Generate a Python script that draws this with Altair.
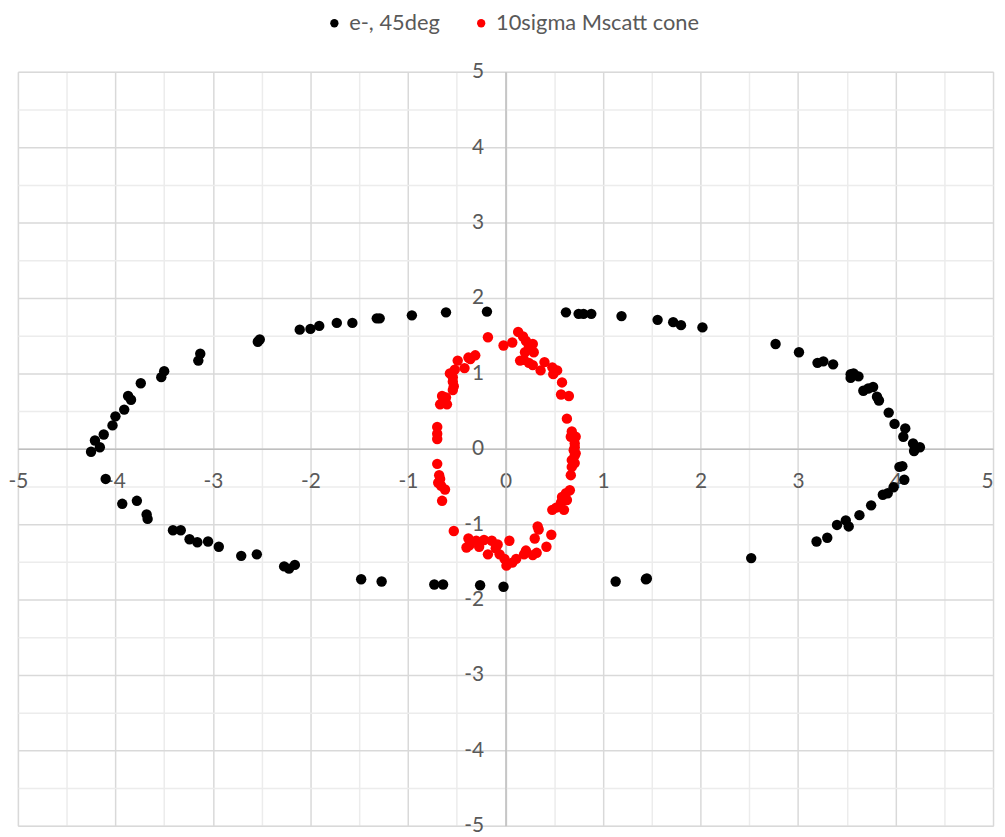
import altair as alt
import pandas as pd

# --- data ---
e_x = [-4.25, -4.21, -4.16, -4.12, -4.03, -4.00, -3.91, -3.87, -3.84, -3.74, -3.53, -3.50,
       -3.15, -3.13, -2.54, -2.52, -2.11, -2.00, -1.91, -1.73, -1.57, -1.32, -1.29, -0.96,
       -0.61, -0.19, 0.62, 0.75, 0.80, 0.88, 1.19, 1.56, 1.72, 1.80, 2.02, 2.77, 3.01, 3.20,
       3.26, 3.36, 3.54, 3.54, 3.62, 3.57, 3.67, 3.72, 3.77, 3.81, 3.83, 3.93, 3.99, 4.10,
       4.08, 4.18, 4.25, 4.19,
       -4.10, -3.93, -3.78, -3.68, -3.67, -3.41, -3.33, -3.24, -3.16, -3.05, -2.94, -2.71,
       -2.55, -2.27, -2.22, -2.16, -1.48, -1.27, -0.73, -0.64, -0.26, -0.02, 1.13, 1.44,
       1.45, 2.52, 3.19, 3.30, 3.40, 3.49, 3.52, 3.63, 3.75, 3.87, 3.92, 3.98, 4.04, 4.07, 4.09]
e_y = [-0.04, 0.11, 0.02, 0.19, 0.31, 0.43, 0.52, 0.70, 0.65, 0.87, 0.95, 1.03,
       1.17, 1.26, 1.42, 1.45, 1.58, 1.59, 1.63, 1.67, 1.67, 1.73, 1.73, 1.77,
       1.81, 1.82, 1.81, 1.79, 1.79, 1.79, 1.76, 1.71, 1.68, 1.64, 1.61, 1.39, 1.28, 1.14,
       1.16, 1.12, 0.99, 0.94, 0.96, 1.00, 0.77, 0.80, 0.82, 0.69, 0.64, 0.48, 0.33, 0.27,
       0.16, 0.07, 0.02, -0.03,
       -0.40, -0.73, -0.69, -0.87, -0.93, -1.08, -1.08, -1.20, -1.24, -1.23, -1.30, -1.42,
       -1.40, -1.56, -1.59, -1.54, -1.73, -1.76, -1.80, -1.80, -1.81, -1.83, -1.76, -1.73,
       -1.72, -1.45, -1.23, -1.18, -1.01, -0.95, -1.03, -0.88, -0.75, -0.61, -0.59, -0.51,
       -0.24, -0.23, -0.41]

cone_x = [-0.18, -0.02, 0.07, 0.13, 0.18, 0.21, 0.28, 0.24, 0.29, 0.20, 0.15, 0.19, 0.24,
          0.28, 0.36, 0.40, 0.48, 0.53, 0.49, 0.58, 0.57, 0.65, 0.63, 0.68, 0.72, 0.67,
          0.71, 0.70, 0.71, 0.68, 0.71, 0.67, 0.68, 0.72, 0.71,
          -0.31, -0.38, -0.36, -0.49, -0.42, -0.52, -0.57, -0.54, -0.54, -0.53, -0.54, -0.65,
          -0.61, -0.67, -0.60, -0.70, -0.70, -0.70, -0.70, -0.68, -0.67, -0.69, -0.66, -0.62,
          -0.65,
          -0.53, -0.38, -0.40, -0.37, -0.30, -0.22, -0.14, -0.08, 0.04, -0.27, -0.18, -0.10,
          -0.06, -0.01, 0.01, 0.07, 0.11, 0.19, 0.21, 0.28, 0.32, 0.33, 0.34, 0.30, 0.42, 0.47,
          0.48, 0.52, 0.57, 0.58, 0.62, 0.66, 0.60, 0.63]
cone_y = [1.48, 1.37, 1.41, 1.55, 1.49, 1.43, 1.39, 1.35, 1.28, 1.28, 1.17, 1.18, 1.14,
          1.11, 1.04, 1.15, 1.08, 1.04, 0.99, 0.88, 0.72, 0.70, 0.40, 0.23, 0.16, 0.16,
          0.07, -0.02, -0.09, -0.15, -0.19, -0.35, -0.24, -0.06, 0.02,
          1.24, 1.21, 1.19, 1.17, 1.07, 1.05, 1.00, 0.95, 0.89, 0.83, 0.78, 0.70,
          0.68, 0.59, 0.59, 0.29, 0.20, 0.13, -0.20, -0.35, -0.40, -0.45, -0.49, -0.54,
          -0.69,
          -1.09, -1.19, -1.31, -1.28, -1.22, -1.21, -1.22, -1.27, -1.22, -1.30, -1.40, -1.32,
          -1.40, -1.46, -1.55, -1.51, -1.46, -1.40, -1.35, -1.41, -1.38, -1.03, -1.07, -1.19,
          -1.30, -1.14,
          -0.81, -0.78, -0.71, -0.64, -0.59, -0.55, -0.81, -0.68]

series_names = ["e-, 45deg", "10sigma Mscatt cone"]
series_colors = ["#000000", "#ff0000"]
grid_vals = [-5, -4.5, -4, -3.5, -3, -2.5, -2, -1.5, -1, -0.5, 0,
             0.5, 1, 1.5, 2, 2.5, 3, 3.5, 4, 4.5, 5]

df = pd.concat([
    pd.DataFrame({"x": e_x, "y": e_y, "series": series_names[0]}),
    pd.DataFrame({"x": cone_x, "y": cone_y, "series": series_names[1]}),
], ignore_index=True)

W, H = 983, 760
FONT = "Lato"
LABEL_COLOR = "#595959"

grid_color = {"condition": {"test": "datum.value % 1 === 0", "value": "#d9d9d9"},
              "value": "#ececec"}
label_expr = "datum.value % 1 === 0 ? '' + datum.value : ''"

x_axis = alt.Axis(values=grid_vals, grid=True, gridColor=grid_color, gridWidth=1.5,
                  ticks=False, domain=True, domainColor="#bfbfbf", domainWidth=1.5,
                  offset=-H / 2, labelExpr=label_expr, labelFont=FONT, labelFontSize=21,
                  labelColor=LABEL_COLOR, labelPadding=22, labelOverlap=False,
                  labelAlign={"condition": {"test": "datum.value >= 5", "value": "right"},
                              "value": "center"},
                  labelFlush=False, labelBound=False, title=None)
y_axis = alt.Axis(values=grid_vals, grid=True, gridColor=grid_color, gridWidth=1.5,
                  ticks=False, domain=True, domainColor="#bfbfbf", domainWidth=1.5,
                  offset=-W / 2, labelExpr=label_expr, labelFont=FONT, labelFontSize=21,
                  labelColor=LABEL_COLOR, labelPadding=22, labelOverlap=False,
                  labelFlush=False, labelBound=False, title=None)

chart = alt.Chart(df).mark_circle(size=110, opacity=1).encode(
    x=alt.X("x:Q", scale=alt.Scale(domain=[-5, 5], nice=False, zero=False), axis=x_axis),
    y=alt.Y("y:Q", scale=alt.Scale(domain=[-5, 5], nice=False, zero=False), axis=y_axis),
    color=alt.Color("series:N",
                    scale=alt.Scale(domain=series_names, range=series_colors),
                    legend=alt.Legend(title=None, orient="none", direction="horizontal",
                                      legendX=308, legendY=-60,
                                      labelFont=FONT, labelFontSize=22, labelLimit=0,
                                      labelColor=LABEL_COLOR, symbolSize=70,
                                      symbolType="circle", symbolStrokeWidth=0,
                                      columnPadding=30, labelOffset=4)),
    order=alt.Order("series:N"),
).properties(
    width=W, height=H,
    autosize=alt.AutoSizeParams(type="none"),
    padding={"left": 10, "top": 61, "right": 4, "bottom": 8},
).configure_view(stroke=None).configure(background="white")

chart.save("out.html", embed_options={"renderer": "svg", "actions": False})
